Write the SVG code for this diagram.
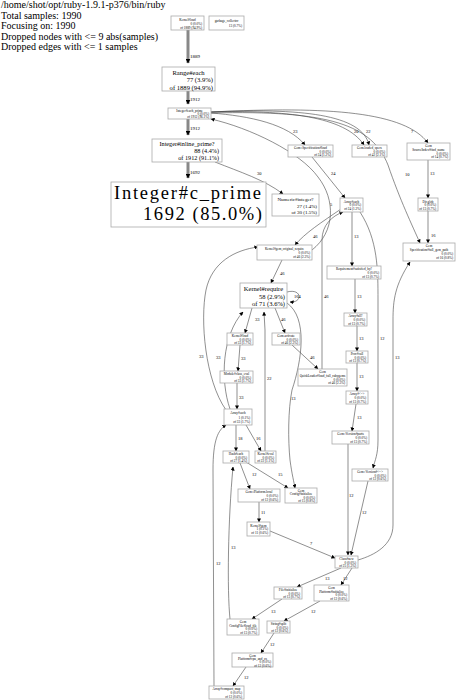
<svg xmlns="http://www.w3.org/2000/svg" width="456" height="700" viewBox="0 0 456 700">
<style>
text{font-family:"Liberation Serif","Times New Roman",serif;fill:#000}
.h{font-size:10px}
.b{fill:#fff;stroke:#aaa;stroke-width:0.8}
.s{font-size:3.3px}
.c{text-anchor:middle}
.r{text-anchor:end}
.e{fill:none;stroke:#444;stroke-width:0.6}
.t{fill:none;stroke:#888;stroke-width:3}
.l{font-size:4.5px}
.lt{font-size:5px}
</style>
<defs>
<marker id="a" viewBox="0 0 10 10" refX="9" refY="5" markerWidth="4" markerHeight="4" orient="auto" markerUnits="userSpaceOnUse"><path d="M0,0L10,5L0,10z" fill="#000"/></marker>
<marker id="ab" viewBox="0 0 10 10" refX="9" refY="5" markerWidth="5" markerHeight="5" orient="auto" markerUnits="userSpaceOnUse"><path d="M0,0L10,5L0,10z" fill="#000"/></marker>
</defs>
<rect width="456" height="700" fill="#fff"/>
<g id="header">
<text class="h" x="1" y="8">/home/shot/opt/ruby-1.9.1-p376/bin/ruby</text>
<text class="h" x="1" y="18.5">Total samples: 1990</text>
<text class="h" x="1" y="29">Focusing on: 1990</text>
<text class="h" x="1" y="39.5">Dropped nodes with &lt;= 9 abs(samples)</text>
<text class="h" x="1" y="50">Dropped edges with &lt;= 1 samples</text>
</g>
<g id="edges">
<path class="t" d="M188,30L188,63" marker-end="url(#ab)"/>
<text class="lt" x="190" y="58">1889</text>
<path class="t" d="M188,91L188,104" marker-end="url(#ab)"/>
<text class="lt" x="190" y="101">1912</text>
<path class="t" d="M188,119L188,135" marker-end="url(#ab)"/>
<text class="lt" x="190" y="130">1912</text>
<path class="t" d="M188,162L188,178" marker-end="url(#ab)"/>
<text class="lt" x="190" y="174">1692</text>
<path class="e" d="M215,162C240,172 265,180 283,194" marker-end="url(#a)"/>
<text class="l" x="257" y="175">30</text>
<path class="e" d="M211,113C250,116 288,124 305,145" marker-end="url(#a)"/>
<text class="l" x="293" y="133">23</text>
<path class="e" d="M211,112C285,110 345,116 364,145" marker-end="url(#a)"/>
<text class="l" x="354" y="133">20</text>
<path class="e" d="M211,112C300,108 362,114 369,145" marker-end="url(#a)"/>
<text class="l" x="366" y="133">22</text>
<path class="e" d="M211,112C330,106 405,112 428,143" marker-end="url(#a)"/>
<text class="l" x="411" y="133">7</text>
<path class="e" d="M211,113C330,110 372,125 388,165C400,200 412,225 420,243" marker-end="url(#a)"/>
<text class="l" x="405" y="176">10</text>
<path class="e" d="M312,157L345,198" marker-end="url(#a)"/>
<text class="l" x="331" y="175">24</text>
<path class="e" d="M428,160L428,198" marker-end="url(#a)"/>
<text class="l" x="430" y="175">13</text>
<path class="e" d="M428,211L428,243" marker-end="url(#a)"/>
<text class="l" x="431" y="237">16</text>
<path class="e" d="M352,212L352,266" marker-end="url(#a)"/>
<text class="l" x="354" y="238">13</text>
<path class="e" d="M360,212C378,240 378,270 378,300L378,440C378,455 375,460 373,468" marker-end="url(#a)"/>
<text class="l" x="380" y="340">12</text>
<path class="e" d="M358,560C375,555 393,545 393,525L393,320C393,300 395,285 410,262" marker-end="url(#a)"/>
<text class="l" x="395" y="359">13</text>
<path class="e" d="M355,279L355,313" marker-end="url(#a)"/>
<text class="l" x="357" y="298">13</text>
<path class="e" d="M357,326L357,351" marker-end="url(#a)"/>
<text class="l" x="359" y="340">13</text>
<path class="e" d="M357,363L357,391" marker-end="url(#a)"/>
<text class="l" x="359" y="378">13</text>
<path class="e" d="M356,404L352,431" marker-end="url(#a)"/>
<text class="l" x="357" y="419">13</text>
<path class="e" d="M348,444L348,555" marker-end="url(#a)"/>
<text class="l" x="349" y="497">12</text>
<path class="e" d="M368,481L351,555" marker-end="url(#a)"/>
<text class="l" x="362" y="514">12</text>
<path class="e" d="M322,369L322,240C322,225 332,216 343,212" marker-end="url(#a)"/>
<text class="l" x="324" y="298">46</text>
<path class="e" d="M341,209C322,222 305,233 295,245" marker-end="url(#a)"/>
<text class="l" x="313" y="238">46</text>
<path class="e" d="M282,260L271,283" marker-end="url(#a)"/>
<text class="l" x="280" y="275">46</text>
<path class="e" d="M287,292C302,288 303,303 290,302" marker-end="url(#a)"/>
<text class="l" x="294" y="298">164</text>
<path class="e" d="M312,250C335,232 336,200 318,177C300,152 250,128 211,119" marker-end="url(#a)"/>
<text class="l" x="330" y="206">5</text>
<path class="e" d="M252,308L245,333" marker-end="url(#a)"/>
<text class="l" x="255" y="321">33</text>
<path class="e" d="M275,308L285,333" marker-end="url(#a)"/>
<text class="l" x="281" y="321">46</text>
<path class="e" d="M292,345L318,369" marker-end="url(#a)"/>
<text class="l" x="310" y="359">46</text>
<path class="e" d="M240,345L238,371" marker-end="url(#a)"/>
<text class="l" x="241" y="360">33</text>
<path class="e" d="M237,383L237,409" marker-end="url(#a)"/>
<text class="l" x="239" y="399">33</text>
<path class="e" d="M265,451L265,330L264,312" marker-end="url(#a)"/>
<text class="l" x="267" y="380">22</text>
<path class="e" d="M230,409C220,380 222,335 243,312" marker-end="url(#a)"/>
<text class="l" x="216" y="359">33</text>
<path class="e" d="M226,410C205,380 200,320 206,290C212,262 235,250 258,247" marker-end="url(#a)"/>
<text class="l" x="199" y="358">33</text>
<path class="e" d="M287,303C308,318 302,360 292,390C288,410 288,440 290,460C292,475 294,482 295,488" marker-end="url(#a)"/>
<text class="l" x="291" y="400">13</text>
<path class="e" d="M236,425L236,451" marker-end="url(#a)"/>
<text class="l" x="238" y="440">18</text>
<path class="e" d="M246,425L261,451" marker-end="url(#a)"/>
<text class="l" x="256" y="440">16</text>
<path class="e" d="M240,463L250,489" marker-end="url(#a)"/>
<text class="l" x="252" y="476">12</text>
<path class="e" d="M246,462L288,488" marker-end="url(#a)"/>
<text class="l" x="278" y="476">15</text>
<path class="e" d="M259,502L259,522" marker-end="url(#a)"/>
<text class="l" x="261" y="514">11</text>
<path class="e" d="M270,531L335,558" marker-end="url(#a)"/>
<text class="l" x="310" y="545">7</text>
<path class="e" d="M341,568L297,587" marker-end="url(#a)"/>
<text class="l" x="325" y="580">13</text>
<path class="e" d="M352,568L341,585" marker-end="url(#a)"/>
<text class="l" x="343" y="580">12</text>
<path class="e" d="M282,599L252,619" marker-end="url(#a)"/>
<text class="l" x="271" y="613">13</text>
<path class="e" d="M320,601L284,621" marker-end="url(#a)"/>
<text class="l" x="311" y="613">12</text>
<path class="e" d="M274,633L261,653" marker-end="url(#a)"/>
<text class="l" x="270" y="646">12</text>
<path class="e" d="M246,667L233,686" marker-end="url(#a)"/>
<text class="l" x="244" y="679">12</text>
<path class="e" d="M230,619C227,590 228,520 233,467" marker-end="url(#a)"/>
<text class="l" x="231" y="549">13</text>
<path class="e" d="M214,686L213,470C213,440 218,430 226,425" marker-end="url(#a)"/>
<text class="l" x="216" y="565">12</text>
</g>
<g id="n1"><rect class="b" x="171" y="16" width="33" height="14"/><text class="s c" x="187.5" y="21">Kernel#load</text><text class="s r" x="202" y="25">0 (0.0%)</text><text class="s r" x="202" y="29">of 1889 (94.9%)</text></g>
<g id="n2"><rect class="b" x="209" y="16" width="35" height="14"/><text class="s c" x="226.5" y="22">garbage_collector</text><text class="s r" x="242" y="27">13 (0.7%)</text></g>
<g id="n3"><rect class="b" x="162" y="67" width="53" height="24"/><text class="c" style="font-size:6.6px" x="188.5" y="74.5">Range#each</text><text class="r" style="font-size:6.6px" x="213" y="82">77 (3.9%)</text><text class="r" style="font-size:6.6px" x="213" y="89.5">of 1889 (94.9%)</text></g>
<g id="n5"><rect class="b" x="168" y="108" width="43" height="11"/><text class="s c" x="189.5" y="111.5">Integer#each_prime</text><text class="s r" x="209" y="114.8">0 (0.0%)</text><text class="s r" x="209" y="118">of 1912 (96.1%)</text></g>
<g id="n6"><rect class="b" x="152" y="139" width="70" height="23"/><text class="c" style="font-size:6.2px" x="187" y="146">Integer#inline_prime?</text><text class="r" style="font-size:6.2px" x="219" y="153">88 (4.4%)</text><text class="r" style="font-size:6.2px" x="219" y="160">of 1912 (91.1%)</text></g>
<g id="n7"><rect class="b" x="111" y="182" width="155" height="45"/><text style="font-size:18.5px" x="114" y="199" textLength="147" lengthAdjust="spacing">Integer#c_prime</text><text class="r" style="font-size:18.5px" x="262" y="220" textLength="119" lengthAdjust="spacing">1692 (85.0%)</text></g>
<g id="n8"><rect class="b" x="272" y="194" width="47" height="22"/><text class="c" style="font-size:5px" x="295.5" y="200.5">Numeric#integer?</text><text class="r" style="font-size:5px" x="317" y="207.5">27 (1.4%)</text><text class="r" style="font-size:5px" x="317" y="214">of 30 (1.5%)</text></g>
<g id="n9"><rect class="b" x="288" y="145" width="45" height="12"/><text class="s c" x="310.5" y="149">Gem::Specification#load</text><text class="s r" x="331" y="152.5">0 (0.0%)</text><text class="s r" x="331" y="156">of 24 (1.2%)</text></g>
<g id="n10"><rect class="b" x="352" y="145" width="35" height="12"/><text class="s c" x="369.5" y="149">Gem.loaded_specs</text><text class="s r" x="385" y="152.5">0 (0.0%)</text><text class="s r" x="385" y="156">of 42 (2.1%)</text></g>
<g id="n11"><rect class="b" x="407" y="143" width="43" height="17"/><text class="s c" x="428.5" y="147">Gem</text><text class="s c" x="428.5" y="150.5">SourceIndex#find_name</text><text class="s r" x="448" y="154.5">0 (0.0%)</text><text class="s r" x="448" y="158">of 14 (0.7%)</text></g>
<g id="n12"><rect class="b" x="418" y="198" width="20" height="13"/><text class="s c" x="428" y="202.5">Dir.glob</text><text class="s r" x="436" y="206">0 (0.0%)</text><text class="s r" x="436" y="209.5">of 13 (0.7%)</text></g>
<g id="n13"><rect class="b" x="403" y="243" width="52" height="18"/><text class="s c" x="429" y="247">Gem</text><text class="s c" x="429" y="250.8">Specification#full_gem_path</text><text class="s r" x="453" y="254.8">0 (0.0%)</text><text class="s r" x="453" y="258.6">of 16 (0.8%)</text></g>
<g id="n14"><rect class="b" x="340" y="198" width="23" height="14"/><text class="s c" x="351.5" y="202.5">Array#each</text><text class="s r" x="361" y="206.3">0 (0.0%)</text><text class="s r" x="361" y="210">of 24 (1.2%)</text></g>
<g id="n15"><rect class="b" x="257" y="245" width="55" height="15"/><text class="s c" x="284.5" y="250">Kernel#gem_original_require</text><text class="s r" x="310" y="254">0 (0.0%)</text><text class="s r" x="310" y="258">of 46 (2.3%)</text></g>
<g id="n16"><rect class="b" x="240" y="283" width="47" height="25"/><text class="c" style="font-size:6.5px" x="263.5" y="291">Kernel#require</text><text class="r" style="font-size:6.5px" x="285" y="298.5">58 (2.9%)</text><text class="r" style="font-size:6.5px" x="285" y="306">of 71 (3.6%)</text></g>
<g id="n17"><rect class="b" x="327" y="266" width="54" height="13"/><text class="s c" x="354" y="270.3">Requirement#satisfied_by?</text><text class="s r" x="379" y="274">0 (0.0%)</text><text class="s r" x="379" y="277.6">of 13 (0.7%)</text></g>
<g id="n18"><rect class="b" x="344" y="313" width="23" height="13"/><text class="s c" x="355.5" y="317.3">Array#all?</text><text class="s r" x="365" y="321">0 (0.0%)</text><text class="s r" x="365" y="324.6">of 13 (0.7%)</text></g>
<g id="n19"><rect class="b" x="346" y="351" width="22" height="12"/><text class="s c" x="357" y="355">Proc#call</text><text class="s r" x="366" y="358.5">0 (0.0%)</text><text class="s r" x="366" y="362">of 13 (0.7%)</text></g>
<g id="n20"><rect class="b" x="346" y="391" width="22" height="13"/><text class="s c" x="357" y="395.3">Array#&lt;=&gt;</text><text class="s r" x="366" y="399">0 (0.0%)</text><text class="s r" x="366" y="402.6">of 13 (0.7%)</text></g>
<g id="n21"><rect class="b" x="332" y="431" width="37" height="13"/><text class="s c" x="350.5" y="435.3">Gem::Version#parts</text><text class="s r" x="367" y="439">0 (0.0%)</text><text class="s r" x="367" y="442.6">of 13 (0.7%)</text></g>
<g id="n22"><rect class="b" x="298" y="369" width="49" height="17"/><text class="s c" x="322.5" y="373">Gem</text><text class="s c" x="322.5" y="376.7">QuickLoader#load_full_rubygems</text><text class="s r" x="345" y="380.5">0 (0.0%)</text><text class="s r" x="345" y="384.3">of 46 (2.3%)</text></g>
<g id="n23"><rect class="b" x="227" y="333" width="26" height="12"/><text class="s c" x="240" y="337">Kernel#load</text><text class="s r" x="251" y="340.5">0 (0.0%)</text><text class="s r" x="251" y="344">of 33 (1.7%)</text></g>
<g id="n24"><rect class="b" x="272" y="333" width="28" height="12"/><text class="s c" x="286" y="337">Gem.activate</text><text class="s r" x="298" y="340.5">0 (0.0%)</text><text class="s r" x="298" y="344">of 46 (2.3%)</text></g>
<g id="n25"><rect class="b" x="220" y="371" width="33" height="12"/><text class="s c" x="236.5" y="375">Module#class_eval</text><text class="s r" x="251" y="378.5">0 (0.0%)</text><text class="s r" x="251" y="382">of 33 (1.7%)</text></g>
<g id="n26"><rect class="b" x="224" y="409" width="28" height="16"/><text class="s c" x="238" y="414">Array#each</text><text class="s r" x="250" y="418.5">1 (0.1%)</text><text class="s r" x="250" y="423">of 33 (1.7%)</text></g>
<g id="n27"><rect class="b" x="223" y="451" width="26" height="12"/><text class="s c" x="236" y="455">Hash#each</text><text class="s r" x="247" y="458.5">0 (0.0%)</text><text class="s r" x="247" y="462">of 27 (1.4%)</text></g>
<g id="n28"><rect class="b" x="255" y="451" width="21" height="12"/><text class="s c" x="265.5" y="455">Kernel#eval</text><text class="s r" x="274" y="458.5">0 (0.0%)</text><text class="s r" x="274" y="462">of 22 (1.1%)</text></g>
<g id="n29"><rect class="b" x="238" y="489" width="42" height="13"/><text class="s c" x="259" y="493.3">Gem::Platform.local</text><text class="s r" x="278" y="497">0 (0.0%)</text><text class="s r" x="278" y="500.6">of 12 (0.6%)</text></g>
<g id="n30"><rect class="b" x="285" y="488" width="32" height="15"/><text class="s c" x="301" y="491.8">Gem</text><text class="s c" x="301" y="495.2">Config#initialize</text><text class="s r" x="315" y="498.6">0 (0.0%)</text><text class="s r" x="315" y="502">of 15 (0.8%)</text></g>
<g id="n31"><rect class="b" x="247" y="522" width="23" height="14"/><text class="s c" x="258.5" y="526.5">Kernel#gem</text><text class="s r" x="268" y="530.3">1 (0.1%)</text><text class="s r" x="268" y="534">of 11 (0.6%)</text></g>
<g id="n32"><rect class="b" x="352" y="469" width="36" height="12"/><text class="s c" x="370" y="473">Gem::Version#&lt;=&gt;</text><text class="s r" x="386" y="476.5">0 (0.0%)</text><text class="s r" x="386" y="480">of 12 (0.6%)</text></g>
<g id="n33"><rect class="b" x="335" y="556" width="23" height="12"/><text class="s c" x="346.5" y="560">Class#new</text><text class="s r" x="356" y="563.5">0 (0.0%)</text><text class="s r" x="356" y="567">of 25 (1.3%)</text></g>
<g id="n34"><rect class="b" x="274" y="587" width="28" height="12"/><text class="s c" x="288" y="591">File#initialize</text><text class="s r" x="300" y="594.5">0 (0.0%)</text><text class="s r" x="300" y="598">of 13 (0.7%)</text></g>
<g id="n35"><rect class="b" x="314" y="585" width="35" height="16"/><text class="s c" x="331.5" y="589">Gem</text><text class="s c" x="331.5" y="592.5">Platform#initialize</text><text class="s r" x="347" y="596">0 (0.0%)</text><text class="s r" x="347" y="599.5">of 12 (0.6%)</text></g>
<g id="n36"><rect class="b" x="227" y="619" width="32" height="16"/><text class="s c" x="243" y="623">Gem</text><text class="s c" x="243" y="626.5">ConfigFile#load_file</text><text class="s r" x="257" y="630">0 (0.0%)</text><text class="s r" x="257" y="633.5">of 13 (0.7%)</text></g>
<g id="n37"><rect class="b" x="267" y="621" width="23" height="12"/><text class="s c" x="278.5" y="625">String#split</text><text class="s r" x="288" y="628.5">0 (0.0%)</text><text class="s r" x="288" y="632">of 12 (0.6%)</text></g>
<g id="n38"><rect class="b" x="232" y="653" width="41" height="14"/><text class="s c" x="252.5" y="656.6">Gem</text><text class="s c" x="252.5" y="659.9">Platform#cpu_and_os</text><text class="s r" x="271" y="663.2">0 (0.0%)</text><text class="s r" x="271" y="666.5">of 12 (0.6%)</text></g>
<g id="n39"><rect class="b" x="209" y="686" width="35" height="13"/><text class="s c" x="226.5" y="690.3">Array#compact_map</text><text class="s r" x="242" y="694">0 (0.0%)</text><text class="s r" x="242" y="697.6">of 12 (0.6%)</text></g>
</svg>
